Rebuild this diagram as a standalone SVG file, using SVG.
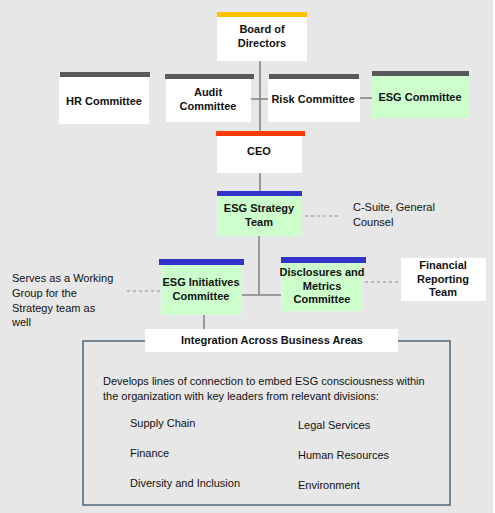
<svg xmlns="http://www.w3.org/2000/svg" width="495" height="513" viewBox="0 0 495 513">
<style>
text{font-family:"Liberation Sans",Arial,sans-serif;font-size:11px;fill:#111}
.b{font-weight:bold;text-anchor:middle}
.box{fill:#ffffff}
.grn{fill:#ccffcc}
.bar-g{fill:#595959}
.bar-b{fill:#3333cc}
.ln{stroke:#808080;stroke-width:1.5;fill:none}
.dash{stroke:#8c8c8c;stroke-width:1;stroke-dasharray:3,3;fill:none}
</style>
<rect x="0" y="0" width="493" height="513" fill="#e7e7e7"/>
<rect x="493" y="0" width="2" height="513" fill="#ffffff"/>
<g id="connectors">
<line class="ln" x1="260" y1="61" x2="260" y2="136"/>
<line class="ln" x1="251" y1="99" x2="268" y2="99"/>
<line class="ln" x1="360" y1="98" x2="372" y2="98"/>
<line class="ln" x1="260" y1="173" x2="260" y2="196"/>
<line class="ln" x1="259" y1="236" x2="259" y2="295"/>
<line class="ln" x1="242" y1="295" x2="281" y2="295"/>
<line class="ln" x1="204" y1="315" x2="204" y2="329"/>
<line class="dash" x1="305" y1="216" x2="341" y2="216"/>
<line class="dash" x1="365" y1="282" x2="401" y2="282"/>
<line class="dash" x1="127" y1="291" x2="161" y2="291"/>
</g>
<g id="board">
<rect x="217" y="12" width="90" height="5" fill="#ffc000"/>
<rect class="box" x="217" y="17" width="90" height="44"/>
<text class="b" x="262" y="33">Board of</text>
<text class="b" x="262" y="47">Directors</text>
</g>
<g id="hr">
<rect class="bar-g" x="60" y="72" width="90" height="5"/>
<rect class="box" x="59" y="77" width="90" height="47"/>
<text class="b" x="104" y="105">HR Committee</text>
</g>
<g id="audit">
<rect class="bar-g" x="165" y="74" width="89" height="5"/>
<rect class="box" x="166" y="79" width="85" height="43"/>
<text class="b" x="208" y="96">Audit</text>
<text class="b" x="208" y="110">Committee</text>
</g>
<g id="risk">
<rect class="bar-g" x="269" y="74" width="90" height="5"/>
<rect class="box" x="268" y="79" width="92" height="43"/>
<text class="b" x="313" y="103">Risk Committee</text>
</g>
<g id="esgc">
<rect class="bar-g" x="372" y="71" width="97" height="5"/>
<rect class="grn" x="372" y="76" width="97" height="42"/>
<text class="b" x="420" y="101">ESG Committee</text>
</g>
<g id="ceo">
<rect x="216" y="131" width="89" height="5" fill="#ff3a0a"/>
<rect class="box" x="217" y="136" width="85" height="37"/>
<text class="b" x="259" y="155">CEO</text>
</g>
<g id="strategy">
<rect class="bar-b" x="217" y="191" width="85" height="5"/>
<rect class="grn" x="217" y="196" width="85" height="40"/>
<text class="b" x="259" y="212">ESG Strategy</text>
<text class="b" x="259" y="226">Team</text>
</g>
<g id="csuite">
<text x="353" y="211">C-Suite, General</text>
<text x="353" y="226">Counsel</text>
</g>
<g id="initiatives">
<rect class="bar-b" x="159" y="259" width="85" height="6"/>
<rect class="grn" x="161" y="265" width="81" height="50"/>
<text class="b" x="201" y="286">ESG Initiatives</text>
<text class="b" x="201" y="300">Committee</text>
</g>
<g id="serves">
<text x="12" y="282">Serves as a Working</text>
<text x="12" y="297">Group for the</text>
<text x="12" y="312">Strategy team as</text>
<text x="12" y="326">well</text>
</g>
<g id="disclosures">
<rect class="bar-b" x="281" y="257" width="85" height="6"/>
<rect class="grn" x="281" y="263" width="81" height="48"/>
<text class="b" x="322" y="276">Disclosures and</text>
<text class="b" x="322" y="290">Metrics</text>
<text class="b" x="322" y="303">Committee</text>
</g>
<g id="financial">
<rect class="box" x="401" y="258" width="85" height="43"/>
<text class="b" x="443" y="269">Financial</text>
<text class="b" x="443" y="283">Reporting</text>
<text class="b" x="443" y="296">Team</text>
</g>
<g id="integration">
<rect x="83" y="341" width="367" height="164" fill="none" stroke="#4d6577" stroke-width="1.5"/>
<rect class="box" x="145" y="329" width="253" height="23"/>
<text class="b" x="272" y="344">Integration Across Business Areas</text>
<text x="103" y="385">Develops lines of connection to embed ESG consciousness within</text>
<text x="103" y="400">the organization with key leaders from relevant divisions:</text>
<text x="130" y="427">Supply Chain</text>
<text x="130" y="457">Finance</text>
<text x="130" y="487">Diversity and Inclusion</text>
<text x="298" y="429">Legal Services</text>
<text x="298" y="459">Human Resources</text>
<text x="298" y="489">Environment</text>
</g>
</svg>
